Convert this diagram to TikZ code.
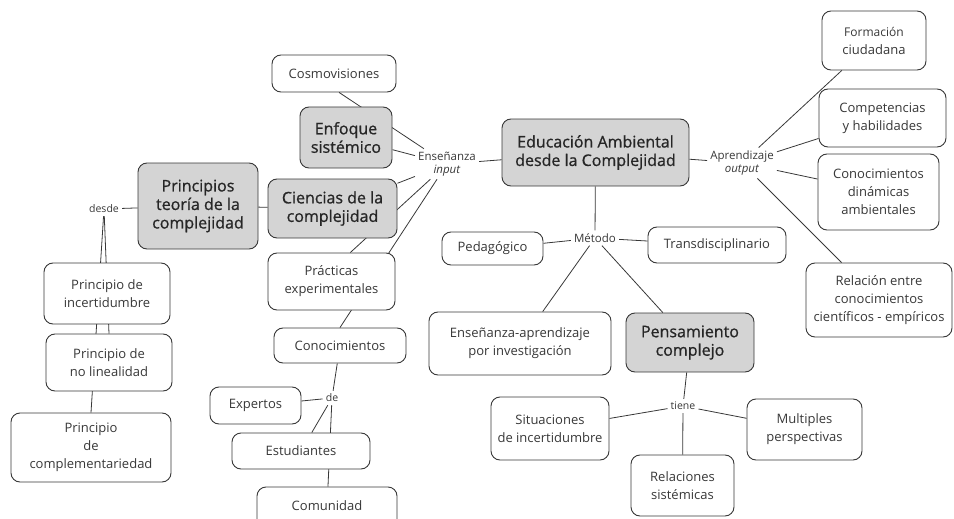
\documentclass[tikz,border=0pt]{standalone}
\usepackage{fontspec}
\setmainfont{Open Sans}
\newfontfamily\hubfont{Open Sans}[FakeBold=0.9]
\usetikzlibrary{backgrounds}

\definecolor{inkgray}{HTML}{383838}
\definecolor{hubgray}{HTML}{D4D4D4}

\tikzset{
  box/.style={draw=inkgray, fill=white, rounded corners=9pt, line width=0.9pt,
    align=center, text=inkgray, inner sep=2pt, font=\fontsize{13}{18}\selectfont},
  hub/.style={box, fill=hubgray, text=black!85, font=\hubfont\fontsize{16}{18.5}\selectfont},
  lbl/.style={text=inkgray, align=center, inner sep=3pt, font=\fontsize{11.5}{13}\selectfont},
  conn/.style={draw=inkgray, line width=0.8pt},
}

\begin{document}
\begin{tikzpicture}[x=1pt, y=-1pt]
  \useasboundingbox (0,0) rectangle (954,519);

%hubs (gray)
    \foreach \name/\x/\y/\w/\h/\txt in {
        educ/595.5/152.5/187/67/{Educación Ambiental\\desde la Complejidad},
        enfoque/346/137.5/92/61/{Enfoque\\sistémico},
        ciencias/332.5/208.5/129/59/{Ciencias de la\\complejidad},
        principios/198/206/120/86/{Principios\\teoría de la\\complejidad},
        pensam/690/342.5/128/59/{Pensamiento\\complejo}} {
         \node[hub, minimum width=\w, minimum height=\h] (\name) at (\x,\y) {\txt};
    }

%left branch
    \foreach \name/\x/\y/\w/\h/\txt in {
        cosmo/334/73.5/124/37/{Cosmovisiones},
        practicas/331.5/281.5/127/57/{Prácticas\\experimentales},
        incert/107/293.5/126/61/{Principio de\\incertidumbre},
        nolin/109/362.5/126/57/{Principio de\\no linealidad},
        compl/91/447.5/160/69/{Principio\\de\\complementariedad},
        conoc/340/345.5/132/35/{Conocimientos},
        expertos/255.5/405.5/91/37/{Expertos},
        estud/301/451/138/36/{Estudiantes},
        comun/327/508/140/42/{\raisebox{5pt}{Comunidad}}} {
         \node[box, minimum width=\w, minimum height=\h] (\name) at (\x,\y) {\txt};
    }

%middle and right
    \foreach \name/\x/\y/\w/\h/\txt in {
        pedag/492.5/248.5/101/33/{Pedagógico},
        transd/717/245/138/36/{Transdisciplinario},
        ensapr/520/343.5/182/63/{Enseñanza-aprendizaje\\por investigación},
        situac/550/428.5/118/63/{Situaciones\\de incertidumbre},
        relac/682.5/485.5/103/61/{Relaciones\\sistémicas},
        multip/804.5/429.5/115/61/{Multiples\\perspectivas},
        formac/874/40.5/104/59/{\fontsize{12}{16}\selectfont Formación\\ciudadana},
        compet/882.5/118/127/58/{Competencias\\y habilidades},
        conodin/878.5/192/121/76/{Conocimientos\\dinámicas\\ambientales},
        relent/879/300/146/74/{Relación entre\\conocimientos\\científicos - empíricos}} {
         \node[box, minimum width=\w, minimum height=\h] (\name) at (\x,\y) {\txt};
    }

%linking words
    \node[lbl] (ens) at (447,164) {Enseñanza\\\textit{input}};
    \node[lbl] (aprend) at (742,163) {Aprendizaje\\\textit{output}};
    \node[lbl] (metodo) at (595,238) {Método};
    \node[lbl] (tiene) at (683,406) {\fontsize{10.5}{12}\selectfont tiene};
    \node[lbl] (desde) at (104,209) {\fontsize{10.5}{12}\selectfont desde};
    \node[lbl] (de) at (332,398) {\fontsize{10.5}{12}\selectfont de};

%connectors (some run behind the boxes)
  \begin{scope}[on background layer]
    \draw[conn] (cosmo.-75) -- (ens);
    \draw[conn] (enfoque) -- (ens);
    \draw[conn] (ciencias) -- (ens);
    \draw[conn] (ens) -- (practicas.57);
    \draw[conn] (ens) -- (conoc.north);
    \draw[conn] (ens) -- (educ);
    \draw[conn] (principios) -- (ciencias);
    \draw[conn] (desde) -- (principios);
    \draw[conn] (desde) -- (nolin.north);
    \draw[conn] (desde) -- (compl.north);
    \draw[conn] (conoc) -- (de);
    \draw[conn] (de) -- (expertos);
    \draw[conn] (de) -- (estud);
    \draw[conn] (de) -- (comun);
    \draw[conn] (educ) -- (aprend);
    \draw[conn] (aprend) -- (formac);
    \draw[conn] (aprend) -- (compet);
    \draw[conn] (aprend) -- (conodin);
    \draw[conn] (aprend) -- (relent);
    \draw[conn] (educ) -- (metodo);
    \draw[conn] (metodo) -- (pedag);
    \draw[conn] (metodo) -- (transd);
    \draw[conn] (metodo) -- (ensapr);
    \draw[conn] (metodo) -- (pensam);
    \draw[conn] (pensam) -- (tiene);
    \draw[conn] (tiene) -- (situac);
    \draw[conn] (tiene) -- (multip);
    \draw[conn] (tiene) -- (relac);
  \end{scope}

\end{tikzpicture}
\end{document}
